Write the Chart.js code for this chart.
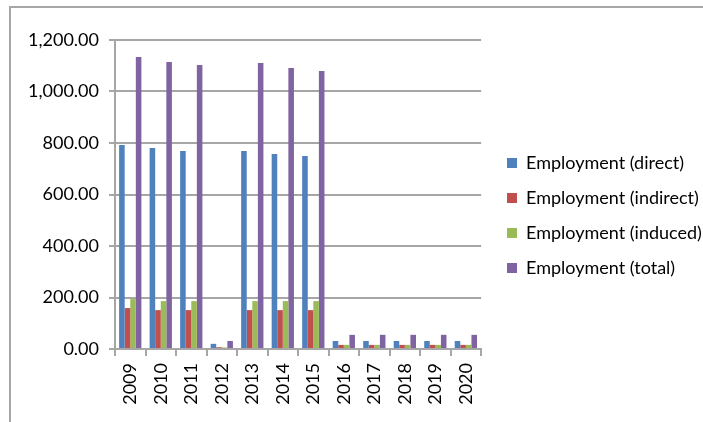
<!DOCTYPE html>
<html>
<head>
<meta charset="utf-8">
<script src="https://cdn.jsdelivr.net/npm/chart.js@4"></script>
<style>
  html, body { margin: 0; padding: 0; background: #fff; }
  #wrap { position: relative; width: 703px; height: 422px; overflow: hidden; }
  #frame { position: absolute; left: 9px; top: 6px; right: -10px; bottom: -10px;
           border-left: 2px solid #a6a6a6; border-top: 2px solid #a6a6a6; }
  canvas { position: absolute; left: 0; top: 0; }
</style>
</head>
<body>
<div id="wrap">
  <div id="frame"></div>
  <canvas id="chart" width="703" height="422"></canvas>
</div>
<script>
// Employment by year
const years = ['2009', '2010', '2011', '2012', '2013', '2014', '2015', '2016', '2017', '2018', '2019', '2020'];
const employmentDirect   = [792, 781, 769, 20, 769, 757, 750, 31, 31, 31, 31, 31];
const employmentIndirect = [159, 151, 151, 7, 151, 151, 151, 16, 16, 16, 16, 16];
const employmentInduced  = [194, 186, 186, 6, 186, 186, 186, 16, 16, 16, 16, 16];
const employmentTotal    = [1134, 1115, 1103, 31, 1111, 1091, 1080, 55, 55, 55, 55, 55];
const yTickValues = [0, 200, 400, 600, 800, 1000, 1200];

const seriesNames = ['Employment (direct)', 'Employment (indirect)', 'Employment (induced)', 'Employment (total)'];
const seriesColors = ['#4F81BD', '#C0504D', '#9BBB59', '#8064A2'];
const seriesValues = [employmentDirect, employmentIndirect, employmentInduced, employmentTotal];

const axisGrey = '#a6a6a6';
const labelFont = { family: 'Lato, "Open Sans", sans-serif', size: 18 };

// Puts the legend column beside the plot, starting a little below the top.
const legendPlacement = {
  id: 'legendPlacement',
  afterLayout(chart) {
    const lg = chart.legend;
    if (!lg) return;
    const w = lg.width;
    lg.left = 490;
    lg.right = lg.left + w;
    lg.top = 137;
    lg.bottom = 422;
  }
};

function draw() {
  new Chart(document.getElementById('chart'), {
    type: 'bar',
    data: {
      labels: years,
      datasets: seriesNames.map((name, i) => ({
        label: name,
        data: seriesValues[i],
        backgroundColor: seriesColors[i],
        borderWidth: 0,
        categoryPercentage: 0.73,
        barPercentage: 1.0
      }))
    },
    options: {
      responsive: false,
      animation: false,
      layout: { padding: { left: 0, top: 40, right: 0, bottom: 0 } },
      plugins: {
        tooltip: { enabled: false },
        legend: {
          position: 'right',
          align: 'start',
          maxWidth: 223,
          labels: {
            boxWidth: 10,
            boxHeight: 10,
            padding: 17,
            color: '#000',
            font: labelFont
          }
        }
      },
      scales: {
        x: {
          grid: {
            display: true,
            offset: true,
            drawOnChartArea: false,
            drawTicks: true,
            tickLength: 7,
            color: axisGrey,
            lineWidth: 2
          },
          border: { display: true, color: axisGrey, width: 2 },
          ticks: {
            autoSkip: false,
            maxRotation: 90,
            minRotation: 90,
            padding: 7,
            color: '#000',
            font: labelFont
          },
          afterFit(scale) { scale.height = 73; }
        },
        y: {
          min: 0,
          max: 1200,
          grid: {
            color: axisGrey,
            lineWidth: 2,
            tickLength: 6,
            drawTicks: true
          },
          border: { display: true, color: axisGrey, width: 2 },
          ticks: {
            padding: 10,
            color: '#000',
            font: labelFont,
            callback: v => Number(v).toLocaleString('en-US', { minimumFractionDigits: 2, maximumFractionDigits: 2 })
          },
          afterBuildTicks(scale) { scale.ticks = yTickValues.map(v => ({ value: v })); },
          afterFit(scale) { scale.width = 115; }
        }
      }
    },
    plugins: [legendPlacement]
  });
}

if (document.fonts && document.fonts.load) {
  document.fonts.load('18px Lato').then(draw, draw);
} else {
  draw();
}
</script>
</body>
</html>
